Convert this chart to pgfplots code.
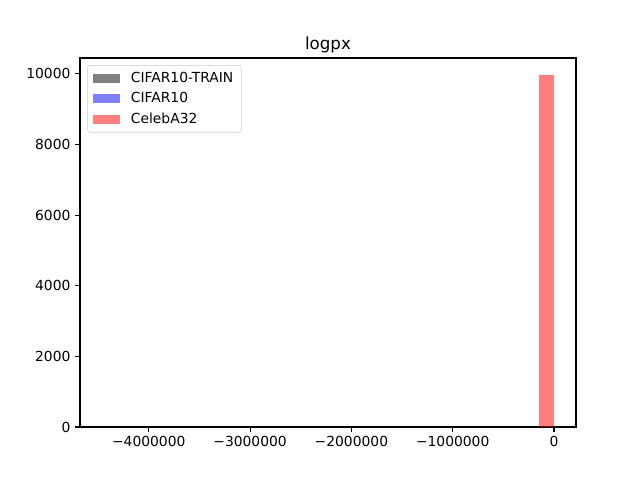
\documentclass[border=0pt]{standalone}
\usepackage{pgfplots}
\pgfplotsset{compat=1.18}
\usepackage{fontspec}
\setmainfont{DejaVu Sans}
\begin{document}
\begin{tikzpicture}
\begin{axis}[
  scale only axis,
  width=372pt, height=276.75pt,
  xmin=-4679000, xmax=217000,
  ymin=0, ymax=10450,
  axis line style={line width=0.83pt},
  tick style={line width=0.83pt, black},
  tick align=outside,
  major tick length=3.65pt,
  xtick pos=left, ytick pos=left,
  xtick={-4000000,-3000000,-2000000,-1000000,0},
  xticklabels={−4000000,−3000000,−2000000,−1000000,0},
  ytick={0,2000,4000,6000,8000,10000},
  yticklabels={0,2000,4000,6000,8000,10000},
  scaled x ticks=false, scaled y ticks=false,
  tick label style={font=\fontsize{10.4}{12.5}\selectfont},
  title={logpx},
  title style={at={(0.5,1)}, anchor=base, yshift=0.2pt, inner sep=0pt, font=\fontsize{12.5}{15}\selectfont},
  legend cell align=left,
  legend style={at={(0.0147,0.981)}, anchor=north west, draw=black!20, rounded corners=2pt,
    font=\fontsize{10.4}{12.5}\selectfont, row sep=2.2pt, inner xsep=4pt, inner ysep=3pt},
]
\addlegendimage{draw=none, legend image code/.code={\fill[draw=none, black, fill opacity=0.5, sharp corners] (0pt,-3.4pt) rectangle (20.5pt,3.4pt); \path (26.5pt,0pt);}}
\addlegendentry{CIFAR10-TRAIN}
\addlegendimage{draw=none, legend image code/.code={\fill[draw=none, blue, fill opacity=0.5, sharp corners] (0pt,-3.4pt) rectangle (20.5pt,3.4pt); \path (26.5pt,0pt);}}
\addlegendentry{CIFAR10}
\addplot[ybar interval, fill=red, fill opacity=0.5, draw=none,
  legend image code/.code={\fill[draw=none, red, fill opacity=0.5, sharp corners] (0pt,-3.4pt) rectangle (20.5pt,3.4pt); \path (26.5pt,0pt);}]
  coordinates {(-148000,9960) (0,9960)};
\addlegendentry{CelebA32}
\end{axis}
\path (current axis.south west) ++(-60pt,-39.75pt) rectangle ++(480pt,360pt);
\end{tikzpicture}
\end{document}
